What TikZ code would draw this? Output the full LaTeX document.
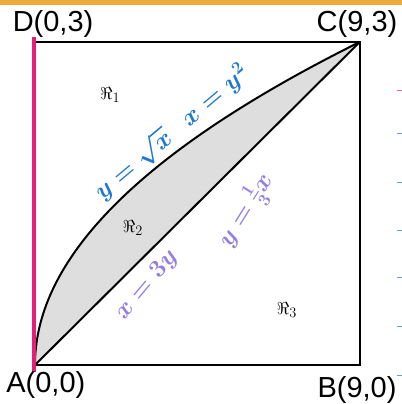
\documentclass[tikz,border=0pt]{standalone}
\usepackage{amsmath}
\usepackage{fontspec}
\setmainfont{Liberation Sans}
\usetikzlibrary{positioning}
\definecolor{penblue}{RGB}{30,120,205}
\definecolor{penpurple}{RGB}{150,125,225}
\definecolor{marker}{RGB}{230,30,120}
\definecolor{band}{RGB}{240,170,60}
\tikzset{corner/.style={font=\fontsize{29}{29}\selectfont,inner sep=0pt},
  region/.style={font=\fontsize{19}{19}\selectfont,inner sep=0pt},
  pen/.style={font=\fontsize{26}{26}\selectfont\boldmath,inner sep=0pt}}

\begin{document}
\begin{tikzpicture}[x=36.1pt,y=107.7pt]
\useasboundingbox (-0.9695,-0.3621) rectangle (10.166,3.389);
\fill[band] (-0.9695,3.3426) rectangle (10.166,3.389);

\coordinate (A) at (0,0);
\coordinate (B) at (9,0);
\coordinate (C) at (9,3);
\coordinate (D) at (0,3);

% region between the curve and the line
\fill[black!13] plot[domain=0:3,samples=60,smooth] ({\x*\x},\x) -- cycle;

\draw[line width=2.6pt] (A) -- (B) -- (C) -- (D) -- cycle;
\draw[line width=2pt] (A) -- (C);
\draw[line width=2pt] plot[domain=0:3,samples=60,smooth] ({\x*\x},\x);
\draw[marker,line width=4pt] (-0.02,-0.065) -- (-0.02,3.045);

% margin ticks
\foreach \t in {2.154,1.699,1.253,0.808,0.353,-0.093}
  \draw[penblue!70,line width=1pt] (10.03,\t) -- (10.166,\t);
\draw[marker!70,line width=1pt] (10.03,2.553) -- (10.166,2.553);

\draw node (lD) at (0.50,3.166) [corner]{D(0,3)};
\draw node (lC) at (8.92,3.166) [corner]{C(9,3)};
\draw node (lA) at (0.30,-0.186) [corner]{A(0,0)};
\draw node (lB) at (8.92,-0.232) [corner]{B(9,0)};

\draw node (r1) at (2.08,2.507) [region]{$\Re_1$};
\draw node (r2) at (2.71,1.272) [region]{$\Re_2$};
\draw node (r3) at (6.98,0.511) [region]{$\Re_3$};

\draw node (sq) at (2.72,1.86) [pen,penblue,rotate=40]{$y=\sqrt{x}$};
\draw node (par) at (4.99,2.50) [pen,penblue,rotate=40]{$x=y^2$};
\draw node (ln) at (5.85,1.43) [pen,penpurple,rotate=58]{$y=\frac{1}{3}x$};
\draw node (inv) at (3.10,0.74) [pen,penpurple,rotate=50]{$x=3y$};
\end{tikzpicture}
\end{document}
